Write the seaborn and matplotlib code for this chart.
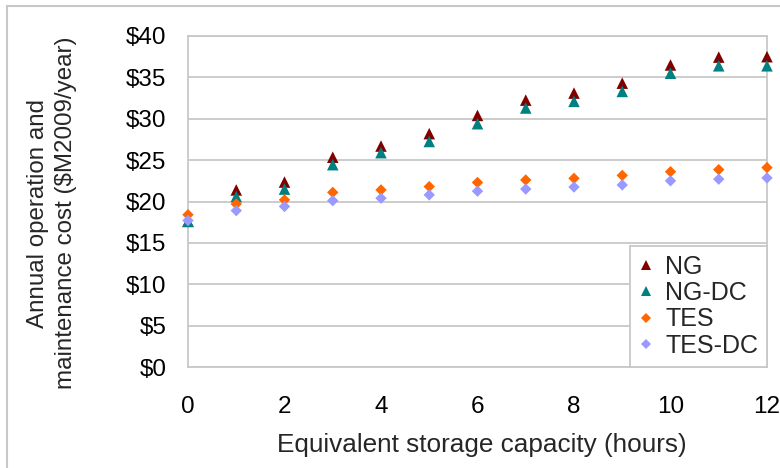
import matplotlib
matplotlib.use("Agg")
import matplotlib.pyplot as plt
from matplotlib.lines import Line2D
from matplotlib.patches import Rectangle
from matplotlib.ticker import FuncFormatter, MultipleLocator
import numpy as np
import pandas as pd
import seaborn as sns

# Storage capacity (hours) and annual O&M cost ($M2009/year) per scenario
hours = list(range(13))
ng = [17.6, 21.4, 22.35, 25.35, 26.7, 28.2, 30.4, 32.25, 33.1, 34.3, 36.5, 37.45, 37.5]
ng_dc = [17.6, 20.6, 21.5, 24.45, 25.9, 27.25, 29.4, 31.3, 32.1, 33.3, 35.5, 36.4, 36.4]
tes = [18.4, 19.7, 20.2, 21.1, 21.4, 21.8, 22.3, 22.6, 22.8, 23.15, 23.6, 23.85, 24.1]
tes_dc = [17.7, 18.9, 19.4, 20.1, 20.4, 20.8, 21.25, 21.5, 21.75, 22.0, 22.5, 22.7, 22.85]

series_names = ["NG", "NG-DC", "TES", "TES-DC"]
series_values = [ng, ng_dc, tes, tes_dc]
colors = {"NG": "#800000", "NG-DC": "#008080", "TES": "#FF6600", "TES-DC": "#9999FF"}
markers = {"NG": "^", "NG-DC": "^", "TES": "D", "TES-DC": "D"}
msize = {"NG": 8.3, "NG-DC": 8.3, "TES": 5.8, "TES-DC": 5.8}

df = pd.concat(
    [pd.DataFrame({"hours": hours, "cost": vals, "series": name})
     for name, vals in zip(series_names, series_values)],
    ignore_index=True,
)

sns.set_style("white")
plt.rcParams["font.family"] = ["Liberation Sans", "DejaVu Sans"]

fig = plt.figure(figsize=(7.8, 4.68), dpi=100)
ax = fig.add_axes([188 / 780, 1 - 367 / 468, 579 / 780, 331 / 468])

grid_c = "#C8C8C8"
ax.set_axisbelow(True)
ax.yaxis.grid(True, color=grid_c, linewidth=1.3)
ax.xaxis.grid(False)

sns.scatterplot(
    data=df, x="hours", y="cost", hue="series", style="series", size="series",
    palette=colors, markers=markers,
    sizes={k: v ** 2 for k, v in msize.items()},
    linewidth=0, legend=False, ax=ax, clip_on=False, zorder=3,
)

ax.set_xlim(0, 12)
ax.set_ylim(0, 40)
ax.xaxis.set_major_locator(MultipleLocator(2))
ax.yaxis.set_major_locator(MultipleLocator(5))
ax.yaxis.set_major_formatter(FuncFormatter(lambda v, p: f"${v:.0f}"))

for side in ["left", "right", "top", "bottom"]:
    ax.spines[side].set_visible(True)
    ax.spines[side].set_color(grid_c)
    ax.spines[side].set_linewidth(1.3)

ax.tick_params(axis="both", which="major", direction="out", color=grid_c,
               width=1.3, labelsize=17.5, labelcolor="black")
ax.tick_params(axis="x", length=5.8, pad=15)
ax.tick_params(axis="y", length=6.5, pad=9)

ax.set_xlabel("Equivalent storage capacity (hours)", fontsize=18.8, va="center")
ax.xaxis.set_label_coords((481.5 - 188) / 579, -(445 - 367) / 331)
ax.set_ylabel("Annual operation and\nmaintenance cost ($M2009/year)",
              fontsize=17.4, va="center", linespacing=1.4)
ax.yaxis.set_label_coords((52 - 188) / 579, (367 - 213) / 331)

handles = [
    Line2D([], [], linestyle="none", marker=markers[n], color=colors[n],
           markersize=msize[n] * 0.9, markeredgewidth=0, label=n)
    for n in series_names
]
leg = ax.legend(handles=handles, loc="lower right", bbox_to_anchor=(1.0, 0.0),
                frameon=True, fancybox=False, fontsize=18, borderaxespad=0,
                handlelength=0.6, handletextpad=0.45, labelspacing=0.1,
                borderpad=0.36)
leg.get_frame().set_edgecolor(grid_c)
leg.get_frame().set_linewidth(1.3)
leg.get_frame().set_facecolor("white")
leg.get_frame().set_alpha(1)
leg.set_zorder(5)

# Outer chart frame (top and left edges visible)
fig.add_artist(Rectangle((7 / 780, -0.1), 1.2, 1.1 - 6 / 468, transform=fig.transFigure,
                         fill=False, edgecolor="#C8C8C8", linewidth=1.5))

fig.savefig("out.png", dpi=100, facecolor="white")
